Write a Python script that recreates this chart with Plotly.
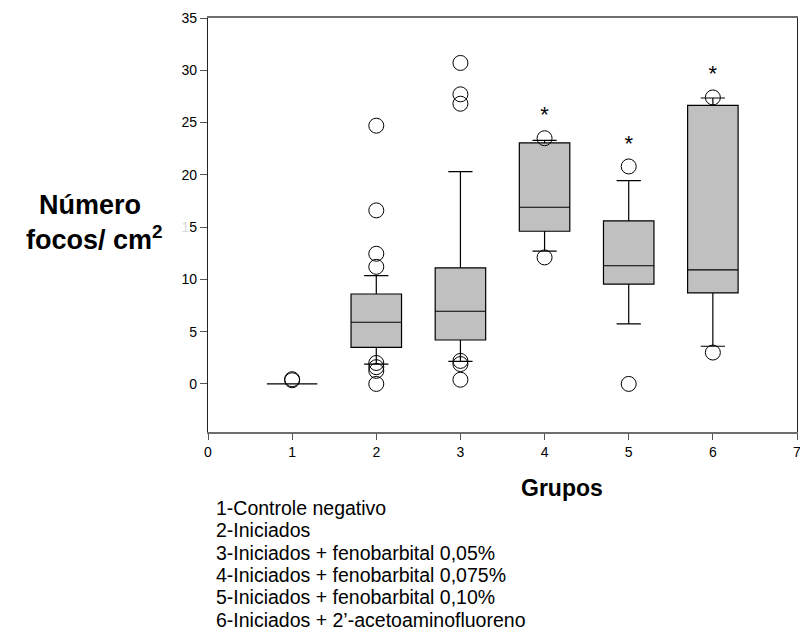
import plotly.graph_objects as go

# ---- data ----
groups = [1, 2, 3, 4, 5, 6]
q1 = [0.0, 3.5, 4.2, 14.6, 9.55, 8.7]
median = [0.0, 5.9, 6.95, 16.9, 11.3, 10.9]
q3 = [0.0, 8.6, 11.1, 23.05, 15.6, 26.65]
lower_whisker = [0.0, 1.9, 2.15, 12.7, 5.75, 3.6]
upper_whisker = [0.0, 10.35, 20.3, 23.3, 19.45, 27.35]

outlier_group = [1, 1,
                 2, 2, 2, 2, 2, 2, 2, 2,
                 3, 3, 3, 3, 3, 3,
                 4, 4,
                 5, 5,
                 6, 6]
outlier_value = [0.35, 0.45,
                 24.7, 16.6, 12.45, 11.2, 2.0, 1.6, 1.25, 0.0,
                 30.7, 27.7, 26.8, 2.2, 1.9, 0.4,
                 23.5, 12.1,
                 20.8, 0.0,
                 27.4, 3.0]

star_group = [4, 5, 6]
star_value = [25.6, 22.8, 29.5]

x_ticks = [0, 1, 2, 3, 4, 5, 6, 7]
y_ticks = [0, 5, 10, 15, 20, 25, 30, 35]
y_ticklabels = ["0", "5", "10", "<span style='color:#d9d9d9'>1</span>5", "20", "25", "30", "35"]

legend_lines = [
    "1-Controle negativo",
    "2-Iniciados",
    "3-Iniciados + fenobarbital 0,05%",
    "4-Iniciados + fenobarbital 0,075%",
    "5-Iniciados + fenobarbital 0,10%",
    "6-Iniciados + 2\u2019-acetoaminofluoreno",
]

FONT = "Liberation Sans, Arial, Helvetica, sans-serif"

fig = go.Figure()

fig.add_trace(go.Box(
    x=groups, q1=q1, median=median, q3=q3,
    lowerfence=lower_whisker, upperfence=upper_whisker,
    width=0.6, whiskerwidth=0.48,
    fillcolor="#c0c0c0",
    line=dict(color="black", width=1.2),
    boxpoints=False, hoverinfo="skip",
))

fig.add_trace(go.Scatter(
    x=outlier_group, y=outlier_value, mode="markers",
    marker=dict(symbol="circle-open", size=15, color="black", line=dict(width=1)),
    hoverinfo="skip",
))

fig.add_trace(go.Scatter(
    x=star_group, y=star_value, mode="text", text=["*"] * len(star_group),
    textposition="middle center",
    textfont=dict(family=FONT, size=22, color="black"),
    hoverinfo="skip",
))

W, H = 800, 640
L, T = 208, 18
R = W - 797
B = H - 432
pw = W - L - R
ph = H - T - B


def px(xp):
    return (xp - L) / pw


def py(yp):
    return (H - B - yp) / ph


annotations = []
annotations.append(dict(x=px(562), y=py(488), xref="paper", yref="paper",
                        text="<b>Grupos</b>", showarrow=False,
                        xanchor="center", yanchor="middle",
                        font=dict(family=FONT, size=23, color="black")))
annotations.append(dict(x=px(90), y=py(205), xref="paper", yref="paper",
                        text="<b>Número</b>", showarrow=False,
                        xanchor="center", yanchor="middle",
                        font=dict(family=FONT, size=27, color="black")))
annotations.append(dict(x=px(94), y=py(238), xref="paper", yref="paper",
                        text="<b>focos/ cm<sup>2</sup></b>", showarrow=False,
                        xanchor="center", yanchor="middle",
                        font=dict(family=FONT, size=27, color="black")))
for i, line in enumerate(legend_lines):
    annotations.append(dict(x=px(214), y=py(508 + i * 22.3), xref="paper", yref="paper",
                            text=line, showarrow=False,
                            xanchor="left", yanchor="middle",
                            font=dict(family=FONT, size=19.5, color="black")))

fig.update_layout(
    width=W, height=H,
    margin=dict(l=L, r=R, t=T, b=B, pad=0, autoexpand=False),
    paper_bgcolor="white", plot_bgcolor="white",
    showlegend=False,
    font=dict(family=FONT, size=14, color="black"),
    annotations=annotations,
    xaxis=dict(range=[0, 7], tickvals=x_ticks, ticktext=[str(v) for v in x_ticks],
               showgrid=False, zeroline=False, automargin=False,
               ticklabeloverflow="allow",
               showline=True, linecolor="#6e6e6e", linewidth=1.5, mirror=True,
               ticks="outside", ticklen=6, tickcolor="#555", tickwidth=1,
               tickfont=dict(family=FONT, size=14, color="black")),
    yaxis=dict(range=[-4.6, 35], tickvals=y_ticks, ticktext=y_ticklabels,
               showgrid=False, zeroline=False, automargin=False,
               ticklabeloverflow="allow",
               showline=True, linecolor="#222", linewidth=1.3, mirror=True,
               ticks="outside", ticklen=7, tickcolor="#555", tickwidth=1,
               tickfont=dict(family=FONT, size=14, color="black")),
)

fig.write_html(
    "out.html",
    config={"displayModeBar": False},
    post_script="document.body.style.margin='0';document.body.style.overflow='hidden';",
)
